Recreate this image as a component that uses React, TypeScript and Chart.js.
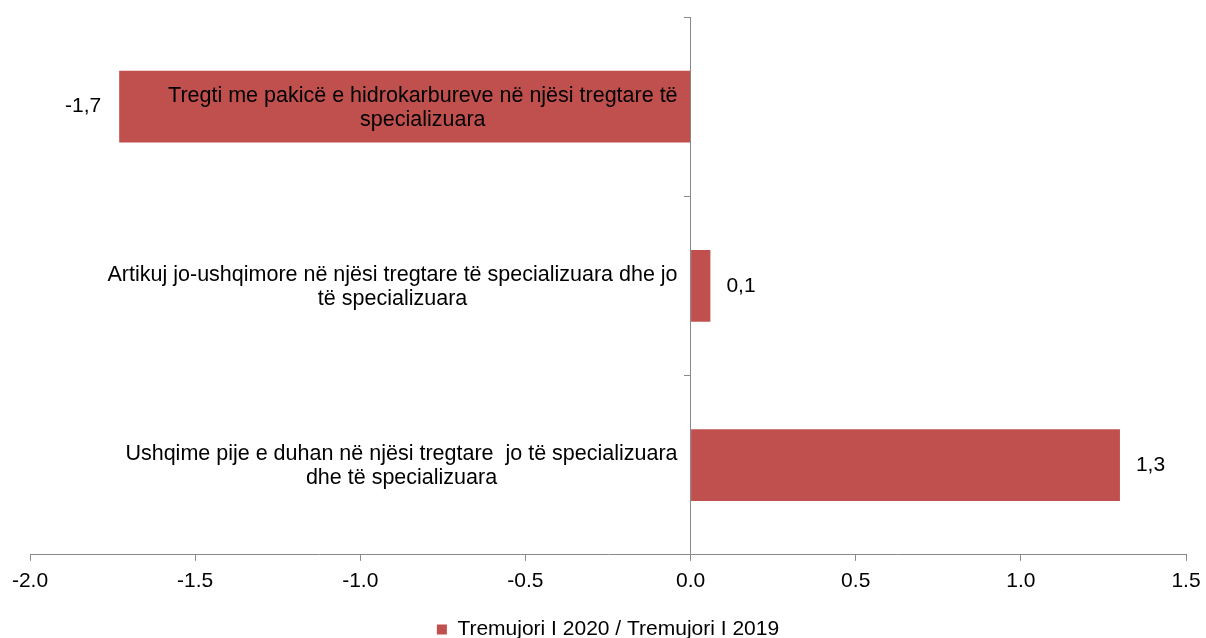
import React, { useEffect, useRef } from "react";
import { Chart, registerables } from "chart.js";
Chart.register(...registerables);

const categories: string[][] = [
  ["Tregti me pakicë e hidrokarbureve në njësi tregtare të", "specializuara"],
  ["Artikuj jo-ushqimore në njësi tregtare të specializuara dhe jo", "të specializuara"],
  ["Ushqime pije e duhan në njësi tregtare  jo të specializuara", "dhe të specializuara"],
];
const values: number[] = [-1.73, 0.06, 1.3];
const seriesName = "Tremujori I 2020 / Tremujori I 2019";
const xMin = -2;
const xMax = 1.5;
const xStep = 0.5;

const FONT = '"Liberation Sans", Arial, sans-serif';
const FONT_SIZE = 21;
const LABEL_FONT_SIZE = 21.5;
const BAR_COLOR = "#C0504D";
const AXIS_COLOR = "#898989";

const labelsPlugin = {
  id: "customLabels",
  afterDatasetsDraw(chart: any) {
    const ctx = chart.ctx;
    const xs = chart.scales.x;
    const ys = chart.scales.y;
    const zero = xs.getPixelForValue(0);
    ctx.save();
    ctx.fillStyle = "#000";
    ctx.textBaseline = "middle";
    ctx.font = `${LABEL_FONT_SIZE}px ${FONT}`;
    const lh = 24;
    categories.forEach((lines, i) => {
      const cy = ys.getPixelForValue(i) + 1;
      const maxW = Math.max(...lines.map((l) => ctx.measureText(l).width));
      const cx = zero - 13 - maxW / 2;
      ctx.textAlign = "center";
      lines.forEach((l, j) => ctx.fillText(l, cx, cy + (j - (lines.length - 1) / 2) * lh));
    });
    ctx.font = `${FONT_SIZE}px ${FONT}`;
    const meta = chart.getDatasetMeta(0);
    meta.data.forEach((bar: any, i: number) => {
      const v = values[i];
      const txt = v.toFixed(1).replace(".", ",");
      if (v < 0) {
        ctx.textAlign = "right";
        ctx.fillText(txt, bar.x - 18, bar.y);
      } else {
        ctx.textAlign = "left";
        ctx.fillText(txt, bar.x + 16, bar.y);
      }
    });
    ctx.restore();
  },
};

export default function App() {
  const ref = useRef<HTMLCanvasElement | null>(null);
  useEffect(() => {
    document.body.style.margin = "0";
    const canvas = ref.current;
    if (!canvas) return;
    const chart = new Chart(canvas, {
      type: "bar",
      data: {
        labels: categories.map((c) => c.join(" ")),
        datasets: [
          {
            label: seriesName,
            data: values,
            backgroundColor: BAR_COLOR,
            borderWidth: 0,
            barPercentage: 0.4,
            categoryPercentage: 1,
          },
        ],
      },
      options: {
        animation: false,
        responsive: false,
        maintainAspectRatio: false,
        indexAxis: "y",
        layout: { padding: { left: 30, right: 20, top: 17, bottom: -12 } },
        plugins: {
          legend: {
            position: "bottom",
            labels: {
              boxWidth: 10,
              boxHeight: 10,
              padding: 1,
              color: "#000",
              font: { family: FONT, size: FONT_SIZE },
            },
          },
          tooltip: { enabled: false },
        },
        scales: {
          x: {
            type: "linear",
            min: xMin,
            max: xMax,
            ticks: {
              stepSize: xStep,
              callback: (v: any) => Number(v).toFixed(1),
              color: "#000",
              font: { family: FONT, size: FONT_SIZE },
              padding: 8,
              maxRotation: 0,
              autoSkip: false,
            },
            grid: { drawOnChartArea: false, drawTicks: true, tickLength: 6, color: AXIS_COLOR },
            border: { color: AXIS_COLOR, width: 1 },
            afterFit: (s: any) => {
              s.height += 16;
              s.paddingLeft = 20;
              s.paddingRight = 18;
            },
            z: 1,
          },
          y: {
            type: "category",
            position: { x: 0 } as any,
            ticks: { display: false },
            grid: { offset: true, drawOnChartArea: false, tickLength: 6, color: AXIS_COLOR },
            border: { color: AXIS_COLOR, width: 1 },
            z: 1,
          },
        },
      } as any,
      plugins: [labelsPlugin],
    });
    return () => chart.destroy();
  }, []);
  return <canvas ref={ref} width={1206} height={638} style={{ display: "block" }} />;
}
